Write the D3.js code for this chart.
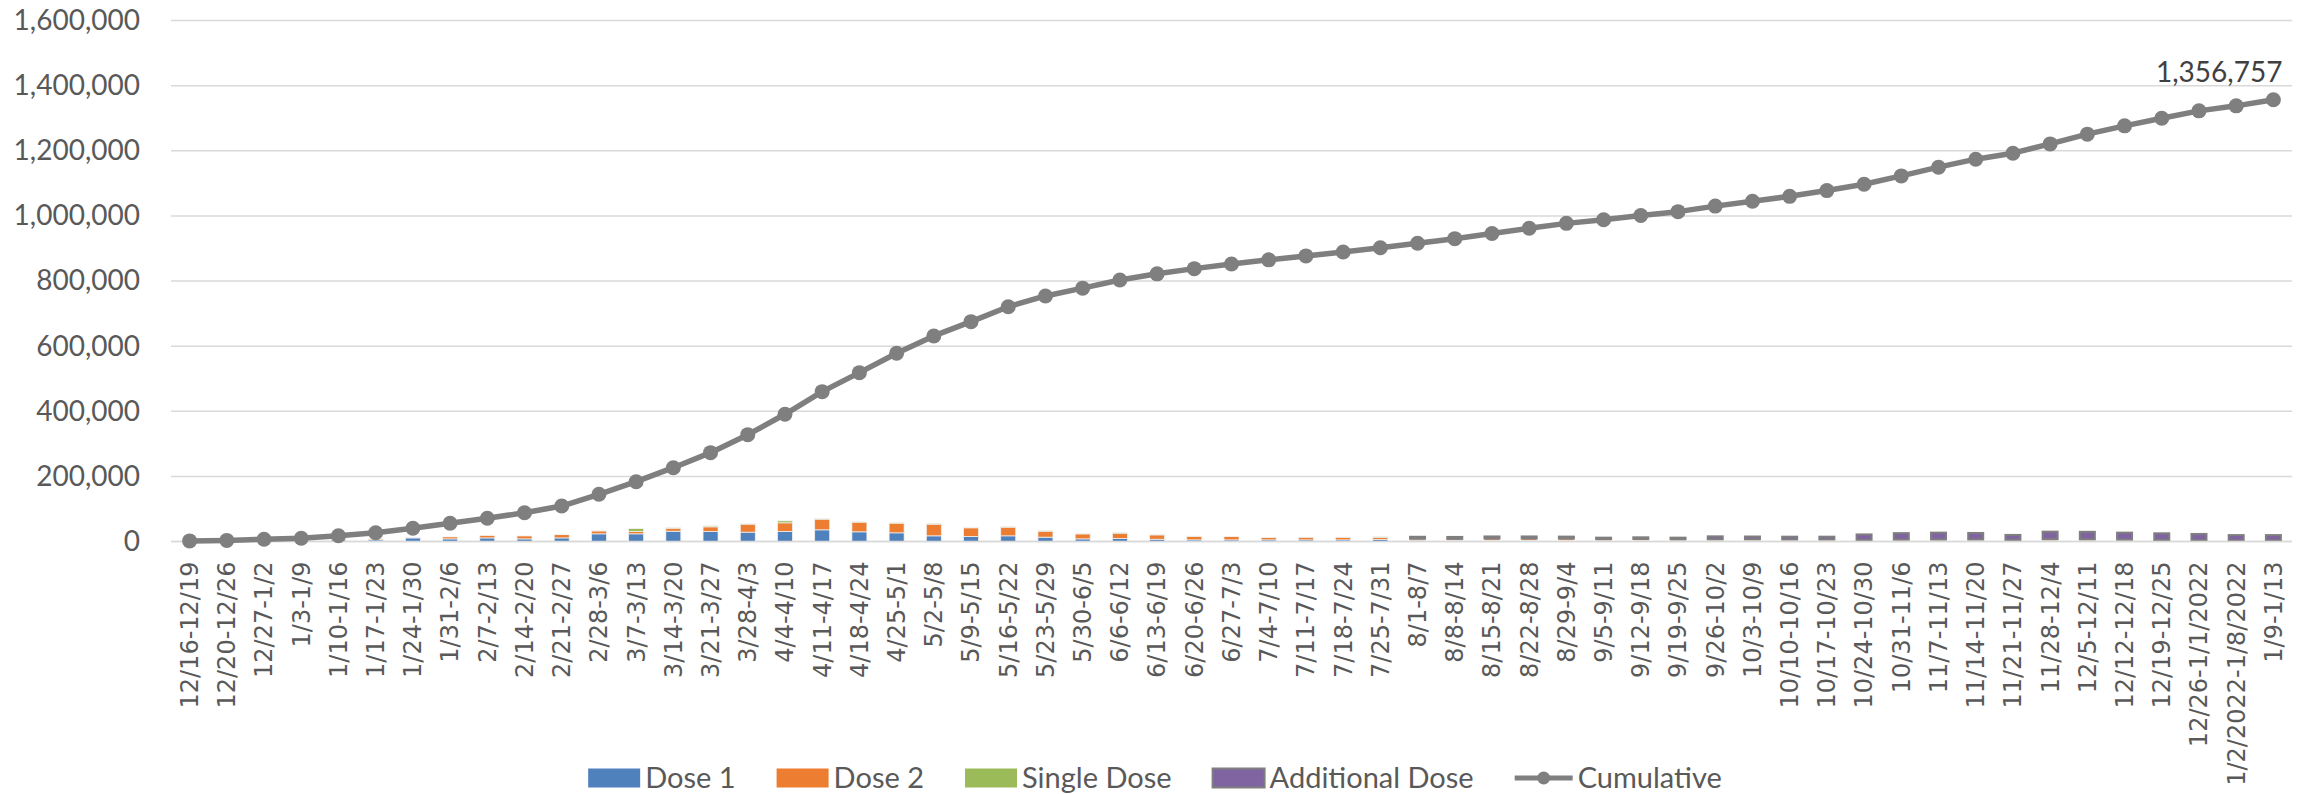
<!DOCTYPE html>
<html>
<head>
<meta charset="utf-8">
<script src="https://cdn.jsdelivr.net/npm/d3@7"></script>
<style>
  html, body { margin: 0; padding: 0; background: #fff; }
  svg { display: block; }
</style>
</head>
<body>
<svg id="chart"></svg>
<script>
const weeks = [
  '12/16-12/19', '12/20-12/26', '12/27-1/2', '1/3-1/9', '1/10-1/16', '1/17-1/23', '1/24-1/30',
  '1/31-2/6', '2/7-2/13', '2/14-2/20', '2/21-2/27', '2/28-3/6', '3/7-3/13', '3/14-3/20',
  '3/21-3/27', '3/28-4/3', '4/4-4/10', '4/11-4/17', '4/18-4/24', '4/25-5/1', '5/2-5/8',
  '5/9-5/15', '5/16-5/22', '5/23-5/29', '5/30-6/5', '6/6-6/12', '6/13-6/19', '6/20-6/26',
  '6/27-7/3', '7/4-7/10', '7/11-7/17', '7/18-7/24', '7/25-7/31', '8/1-8/7', '8/8-8/14',
  '8/15-8/21', '8/22-8/28', '8/29-9/4', '9/5-9/11', '9/12-9/18', '9/19-9/25', '9/26-10/2',
  '10/3-10/9', '10/10-10/16', '10/17-10/23', '10/24-10/30', '10/31-11/6', '11/7-11/13',
  '11/14-11/20', '11/21-11/27', '11/28-12/4', '12/5-12/11', '12/12-12/18', '12/19-12/25',
  '12/26-1/1/2022', '1/2/2022-1/8/2022', '1/9-1/13'
];

const dose1 = [
  1500, 1500, 3000, 3000, 5000, 5000, 11000, 8000, 11000, 8000, 11000, 23500, 23500, 31700,
  30700, 28700, 30700, 35800, 29700, 26600, 17400, 15400, 17400, 13300, 8000, 9200, 7000, 5000,
  5000, 5000, 5000, 5000, 6000, 4000, 3000, 3500, 3500, 3000, 2500, 2500, 2500, 3000,
  3000, 3000, 3000, 2500, 2500, 4000, 3500, 2500, 2500, 3000, 3000, 2500, 2000, 1500, 1500
];
const dose2 = [
  0, 0, 0, 500, 1500, 3000, 2000, 6000, 7000, 9000, 10000, 9000, 7000, 9200,
  14300, 24600, 26600, 32800, 29700, 29700, 35800, 26600, 26600, 18400, 15400, 16400, 13300, 11000,
  10000, 7000, 8000, 8000, 6000, 4000, 4500, 5000, 5000, 5500, 4500, 5000, 4000, 3500,
  3500, 3000, 3000, 2000, 3000, 2000, 2500, 2000, 4500, 3500, 2500, 2000, 2000, 1500, 1500
];
const singleDose = [
  0, 0, 0, 0, 0, 0, 0, 0, 0, 0, 500, 2000, 9000, 2000,
  3000, 2000, 6100, 2000, 2000, 2000, 1500, 2000, 2000, 1500, 1000, 1000, 1000, 500,
  500, 500, 500, 500, 2500, 500, 500, 500, 500, 500, 300, 300, 300, 300,
  300, 300, 300, 200, 200, 200, 200, 200, 200, 200, 200, 200, 200, 200, 200
];
const additionalDose = [
  0, 0, 0, 0, 0, 0, 0, 0, 0, 0, 0, 0, 0, 0,
  0, 0, 0, 0, 0, 0, 0, 0, 0, 0, 0, 0, 0, 0,
  0, 0, 0, 0, 0, 6000, 6000, 6500, 6500, 6000, 4500, 5000, 5000, 9000,
  8500, 8500, 8500, 17000, 20000, 21000, 20000, 15500, 23000, 23000, 21500, 20500, 19000, 16500, 16500
];
const cumulative = [
  1900, 3400, 6700, 9800, 17800, 27000, 40500, 55900, 71300, 88500, 109000, 145000, 183700, 226700,
  272800, 328100, 390700, 460200, 518500, 578100, 631300, 675200, 721000, 754000, 778000, 803000, 822000, 838000,
  852000, 865000, 877000, 889000, 902000, 916000, 930000, 946000, 962000, 977000, 988000, 1001000, 1013000, 1030000,
  1045000, 1060000, 1077700, 1097300, 1122800, 1149500, 1174100, 1192500, 1221100, 1250900, 1276400, 1300000, 1322500, 1337900, 1356757
];
const yTicks = [0, 200000, 400000, 600000, 800000, 1000000, 1200000, 1400000, 1600000];

const seriesNames = ['Dose 1', 'Dose 2', 'Single Dose', 'Additional Dose'];
const seriesColors = ['#4f81bd', '#ed7d31', '#9bbb59', '#8064a2'];
const lineColor = '#7f7f7f';
const textColor = '#595959';

const width = 2310;
const height = 794;
const margin = { top: 20.5, right: 18, bottom: 252.5, left: 171 };

const svg = d3.select('#chart').attr('width', width).attr('height', height);

const x = d3.scaleBand().domain(weeks).range([margin.left, width - margin.right]).padding(0);
const y = d3.scaleLinear().domain([0, 1600000]).range([height - margin.bottom, margin.top]);
const fmt = d3.format(',');

// gridlines
svg.append('g')
  .selectAll('line')
  .data(yTicks)
  .join('line')
  .attr('x1', margin.left)
  .attr('x2', width - margin.right)
  .attr('y1', d => y(d))
  .attr('y2', d => y(d))
  .attr('stroke', '#d9d9d9')
  .attr('stroke-width', 1.5);

// y axis labels
const yAxis = svg.append('g')
  .attr('transform', `translate(${margin.left - 31},0)`)
  .call(d3.axisLeft(y).tickValues(yTicks).tickFormat(fmt).tickSize(0).tickPadding(0));
yAxis.select('.domain').remove();
yAxis.selectAll('text')
  .attr('fill', textColor)
  .style('font-family', 'Lato, sans-serif')
  .style('font-size', '28px');

// stacked bars
const rows = weeks.map((w, i) => ({
  week: w,
  'Dose 1': dose1[i],
  'Dose 2': dose2[i],
  'Single Dose': singleDose[i],
  'Additional Dose': additionalDose[i]
}));
const stack = d3.stack().keys(seriesNames)(rows);
const barW = 15;

svg.append('g')
  .selectAll('g')
  .data(stack)
  .join('g')
  .attr('fill', (d, i) => seriesColors[i])
  .attr('stroke', (d, i) => i === 3 ? lineColor : '#f2f2f2')
  .attr('stroke-width', (d, i) => i === 3 ? 2 : 0.75)
  .selectAll('rect')
  .data(d => d.filter(s => s[1] - s[0] > 0))
  .join('rect')
  .attr('x', d => x(d.data.week) + x.bandwidth() / 2 - barW / 2)
  .attr('width', barW)
  .attr('y', d => y(d[1]))
  .attr('height', d => y(d[0]) - y(d[1]));

// category axis line
svg.append('line')
  .attr('x1', margin.left)
  .attr('x2', width - margin.right)
  .attr('y1', y(0))
  .attr('y2', y(0))
  .attr('stroke', '#d9d9d9')
  .attr('stroke-width', 1.5);

// x labels
svg.append('g')
  .selectAll('text')
  .data(weeks)
  .join('text')
  .attr('transform', d => `translate(${x(d) + x.bandwidth() / 2},${y(0) + 20}) rotate(-90)`)
  .attr('text-anchor', 'end')
  .attr('dy', '0.35em')
  .attr('fill', textColor)
  .style('font-family', '"DejaVu Sans", sans-serif')
  .style('font-size', '24px')
  .text(d => d);

// cumulative line
const line = d3.line()
  .x((d, i) => x(weeks[i]) + x.bandwidth() / 2)
  .y(d => y(d));

svg.append('path')
  .datum(cumulative)
  .attr('fill', 'none')
  .attr('stroke', lineColor)
  .attr('stroke-width', 5.5)
  .attr('stroke-linejoin', 'round')
  .attr('d', line);

svg.append('g')
  .selectAll('circle')
  .data(cumulative)
  .join('circle')
  .attr('cx', (d, i) => x(weeks[i]) + x.bandwidth() / 2)
  .attr('cy', d => y(d))
  .attr('r', 7.5)
  .attr('fill', lineColor);

// end value label
const last = cumulative.length - 1;
svg.append('text')
  .attr('x', x(weeks[last]) + x.bandwidth() / 2 + 9)
  .attr('y', y(cumulative[last]) - 18)
  .attr('text-anchor', 'end')
  .attr('fill', '#404040')
  .style('font-family', 'Lato, sans-serif')
  .style('font-size', '28px')
  .text(fmt(cumulative[last]));

// legend, centred on the chart
const legend = svg.append('g');
const legendItems = seriesNames.map((n, i) => ({ name: n, color: seriesColors[i], type: 'bar' }))
  .concat([{ name: 'Cumulative', color: lineColor, type: 'line' }]);
const legendY = 778;
let cursor = 0;
legendItems.forEach((item, i) => {
  const g = legend.append('g').attr('transform', `translate(${cursor},0)`);
  let sw;
  if (item.type === 'bar') {
    sw = 52;
    g.append('rect')
      .attr('x', 0).attr('y', legendY - 9.5)
      .attr('width', sw).attr('height', 19)
      .attr('fill', item.color)
      .attr('stroke', i === 3 ? lineColor : 'none')
      .attr('stroke-width', 2);
  } else {
    sw = 58;
    g.append('line')
      .attr('x1', 0).attr('x2', sw)
      .attr('y1', legendY).attr('y2', legendY)
      .attr('stroke', item.color).attr('stroke-width', 5);
    g.append('circle').attr('cx', sw / 2).attr('cy', legendY).attr('r', 6.5).attr('fill', item.color);
  }
  const t = g.append('text')
    .attr('x', sw + 5)
    .attr('y', legendY)
    .attr('dy', '0.35em')
    .attr('fill', textColor)
    .style('font-family', 'Lato, sans-serif')
    .style('font-size', '29px')
    .text(item.name);
  cursor += sw + 5 + t.node().getComputedTextLength() + 41;
});
const legendW = cursor - 41;
legend.attr('transform', `translate(${width / 2 - legendW / 2},0)`);
</script>
</body>
</html>
